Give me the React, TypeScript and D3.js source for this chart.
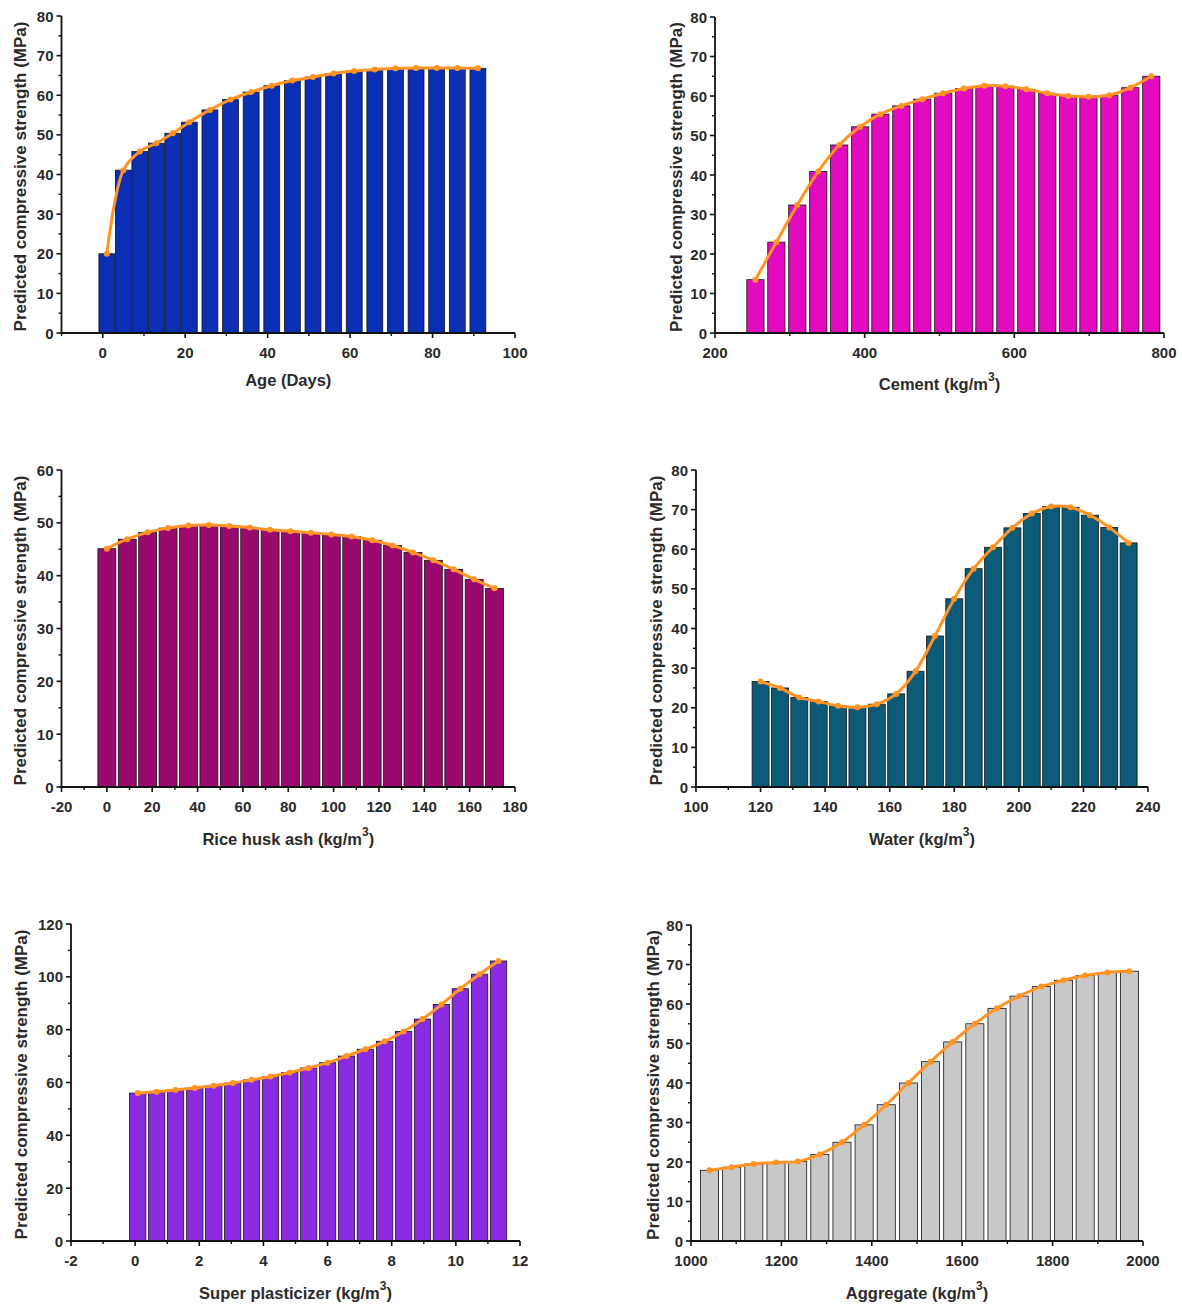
import React from 'react';
import * as d3 from 'd3';

// ---------- data ----------
const ageX = [1, 5, 9, 13, 17, 21, 26, 31, 36, 41, 46, 51, 56, 61, 66, 71, 76, 81, 86, 91];
const ageY = [20.0, 41.1, 45.8, 47.9, 50.4, 53.2, 56.3, 58.9, 60.8, 62.4, 63.7, 64.6, 65.5, 66.1, 66.5, 66.8, 66.9, 66.9, 66.9, 66.8];

const cementX = [254, 282, 310, 338, 366, 394, 421, 449, 477, 505, 533, 560, 588, 616, 644, 672, 699, 727, 755, 783];
const cementY = [13.5, 23.0, 32.4, 40.9, 47.6, 52.2, 55.4, 57.5, 59.2, 60.7, 61.9, 62.6, 62.5, 61.7, 60.7, 60.0, 59.8, 60.2, 62.1, 65.0];

const rhaX = [0, 9, 18, 27, 36, 45, 54, 63, 72, 81, 90, 99, 108, 117, 126, 135, 144, 153, 162, 171];
const rhaY = [45.1, 46.9, 48.2, 49.0, 49.5, 49.6, 49.4, 49.1, 48.7, 48.4, 48.1, 47.8, 47.4, 46.7, 45.7, 44.4, 42.9, 41.2, 39.3, 37.6];

const waterX = [120, 126, 132, 138, 144, 150, 156, 162, 168, 174, 180, 186, 192, 198, 204, 210, 216, 222, 228, 234];
const waterY = [26.6, 25.0, 22.6, 21.6, 20.5, 20.1, 20.9, 23.5, 29.2, 38.1, 47.5, 55.1, 60.5, 65.4, 69.0, 70.8, 70.6, 68.6, 65.5, 61.6];

const spX = [0.08, 0.67, 1.26, 1.86, 2.45, 3.04, 3.63, 4.22, 4.82, 5.41, 6.0, 6.59, 7.18, 7.78, 8.37, 8.96, 9.55, 10.14, 10.74, 11.33];
const spY = [56.0, 56.5, 57.2, 57.9, 58.8, 59.8, 61.0, 62.3, 63.8, 65.5, 67.5, 70.0, 72.6, 75.6, 79.3, 84.0, 89.5, 95.5, 101.0, 106.0];

const aggX = [1041, 1090, 1139, 1188, 1236, 1285, 1334, 1383, 1432, 1481, 1530, 1579, 1628, 1677, 1726, 1775, 1824, 1872, 1921, 1970];
const aggY = [17.9, 18.7, 19.5, 19.9, 20.1, 21.9, 25.0, 29.4, 34.5, 40.0, 45.4, 50.4, 55.0, 58.9, 62.0, 64.4, 66.0, 67.2, 68.0, 68.3];

// tick labels
const ageTicks = [0, 20, 40, 60, 80, 100];
const cementTicks = [200, 400, 600, 800];
const rhaTicks = [-20, 0, 20, 40, 60, 80, 100, 120, 140, 160, 180];
const waterTicks = [100, 120, 140, 160, 180, 200, 220, 240];
const spTicks = [-2, 0, 2, 4, 6, 8, 10, 12];
const aggTicks = [1000, 1200, 1400, 1600, 1800, 2000];
const y80Ticks = [0, 10, 20, 30, 40, 50, 60, 70, 80];
const y60Ticks = [0, 10, 20, 30, 40, 50, 60];
const y120Ticks = [0, 20, 40, 60, 80, 100, 120];

const yTitle = 'Predicted compressive strength (MPa)';

type Panel = {
  xs: number[]; ys: number[];
  left: number; right: number; top: number; bottom: number;
  xDom: [number, number]; xTicks: number[]; yTicks: number[];
  color: string; barW: number; xTitle: string; sup: boolean;
  yTitleX: number; xTitleDy: number;
};

const panels: Panel[] = [
  { xs: ageX, ys: ageY, left: 61.5, right: 515, top: 16, bottom: 333, xDom: [-10, 100], xTicks: ageTicks, yTicks: y80Ticks,
    color: '#0a2eb4', barW: 3.85, xTitle: 'Age (Days)', sup: false, yTitleX: 20, xTitleDy: 47 },
  { xs: cementX, ys: cementY, left: 715, right: 1164, top: 17, bottom: 333, xDom: [200, 800], xTicks: cementTicks, yTicks: y80Ticks,
    color: '#e20bc0', barW: 23, xTitle: 'Cement (kg/m', sup: true, yTitleX: 676, xTitleDy: 51 },
  { xs: rhaX, ys: rhaY, left: 61.5, right: 515, top: 470, bottom: 787, xDom: [-20, 180], xTicks: rhaTicks, yTicks: y60Ticks,
    color: '#9a096e', barW: 7.9, xTitle: 'Rice husk ash (kg/m', sup: true, yTitleX: 20, xTitleDy: 52 },
  { xs: waterX, ys: waterY, left: 696, right: 1148, top: 470, bottom: 787, xDom: [100, 240], xTicks: waterTicks, yTicks: y80Ticks,
    color: '#0b5b78', barW: 5.25, xTitle: 'Water (kg/m', sup: true, yTitleX: 656, xTitleDy: 52 },
  { xs: spX, ys: spY, left: 71, right: 520, top: 924, bottom: 1241, xDom: [-2, 12], xTicks: spTicks, yTicks: y120Ticks,
    color: '#8a2be2', barW: 0.51, xTitle: 'Super plasticizer (kg/m', sup: true, yTitleX: 21, xTitleDy: 52 },
  { xs: aggX, ys: aggY, left: 691, right: 1143, top: 925, bottom: 1241, xDom: [1000, 2000], xTicks: aggTicks, yTicks: y80Ticks,
    color: '#c8c8c8', barW: 40, xTitle: 'Aggregate (kg/m', sup: true, yTitleX: 653, xTitleDy: 52 },
];

const FONT = '"Liberation Sans", Arial, Helvetica, sans-serif';
const TXT = '#2a2a2a';
const ORANGE = '#ff9424';

function midTicks(t: number[], lo: number, hi: number): number[] {
  const step = t[1] - t[0];
  const out: number[] = [];
  const first = t[0] - step / 2;
  for (let v = first; v <= t[t.length - 1] + 1e-9; v += step) {
    if (v >= lo - 1e-9 && v <= hi + 1e-9) out.push(v);
  }
  return out;
}

function PanelView({ p }: { p: Panel }) {
  const x = d3.scaleLinear().domain(p.xDom).range([p.left, p.right]);
  const yMax = p.yTicks[p.yTicks.length - 1];
  const y = d3.scaleLinear().domain([0, yMax]).range([p.bottom, p.top]);
  const pts = p.xs.map((v, i) => [v, p.ys[i]] as [number, number]);
  const line = d3.line<[number, number]>()
    .x(d => x(d[0])).y(d => y(d[1]))
    .curve(d3.curveCatmullRom.alpha(0.5));
  const xMinor = midTicks(p.xTicks, p.xDom[0], p.xDom[1]);
  const yMinor = midTicks(p.yTicks, 0, yMax);
  const cy = (p.top + p.bottom) / 2;
  const cx = (p.left + p.right) / 2;
  return (
    <g>
      {p.xs.map((v, i) => (
        <rect key={i}
          x={x(v - p.barW / 2)} width={x(v + p.barW / 2) - x(v - p.barW / 2)}
          y={y(p.ys[i])} height={y(0) - y(p.ys[i])}
          fill={p.color} stroke="#151515" strokeWidth={0.8} />
      ))}
      <path d={line(pts) || ''} fill="none" stroke={ORANGE} strokeWidth={3} strokeLinejoin="round" />
      {pts.map((d, i) => (
        <circle key={i} cx={x(d[0])} cy={y(d[1])} r={3} fill={ORANGE} />
      ))}
      {/* axes */}
      <line x1={p.left} x2={p.right} y1={p.bottom} y2={p.bottom} stroke="#111" strokeWidth={1.8} />
      <line x1={p.left} x2={p.left} y1={p.top} y2={p.bottom} stroke="#111" strokeWidth={1.8} />
      {p.xTicks.map(t => (
        <g key={'xt' + t}>
          <line x1={x(t)} x2={x(t)} y1={p.bottom} y2={p.bottom + 5} stroke="#111" strokeWidth={1.6} />
          <text x={x(t)} y={p.bottom + 19} textAnchor="middle" dominantBaseline="central"
            fontFamily={FONT} fontWeight="bold" fontSize={15} fill={TXT}>{t}</text>
        </g>
      ))}
      {xMinor.map(t => (
        <line key={'xm' + t} x1={x(t)} x2={x(t)} y1={p.bottom} y2={p.bottom + 3} stroke="#111" strokeWidth={1.4} />
      ))}
      {p.yTicks.map(t => (
        <g key={'yt' + t}>
          <line x1={p.left - 5} x2={p.left} y1={y(t)} y2={y(t)} stroke="#111" strokeWidth={1.6} />
          <text x={p.left - 8} y={y(t)} textAnchor="end" dominantBaseline="central"
            fontFamily={FONT} fontWeight="bold" fontSize={15} fill={TXT}>{t}</text>
        </g>
      ))}
      {yMinor.map(t => (
        <line key={'ym' + t} x1={p.left - 3} x2={p.left} y1={y(t)} y2={y(t)} stroke="#111" strokeWidth={1.4} />
      ))}
      <text transform={`translate(${p.yTitleX},${cy + 2}) rotate(-90)`} textAnchor="middle" dominantBaseline="central"
        fontFamily={FONT} fontWeight="bold" fontSize={17} fill={TXT}>{yTitle}</text>
      <text x={cx} y={p.bottom + p.xTitleDy} textAnchor="middle" dominantBaseline="central"
        fontFamily={FONT} fontWeight="bold" fontSize={16.5} fill={TXT}>
        {p.xTitle}
        {p.sup ? (<><tspan dy={-7} fontSize={12}>3</tspan><tspan dy={7}>)</tspan></>) : null}
      </text>
    </g>
  );
}

export default function App() {
  return (
    <div style={{ position: 'absolute', left: 0, top: 0 }}>
      <svg width={1182} height={1305} viewBox="0 0 1182 1305" style={{ display: 'block', background: '#fff' }}>
        <rect x={0} y={0} width={1182} height={1305} fill="#fff" />
        {panels.map((p, i) => <PanelView key={i} p={p} />)}
      </svg>
    </div>
  );
}
